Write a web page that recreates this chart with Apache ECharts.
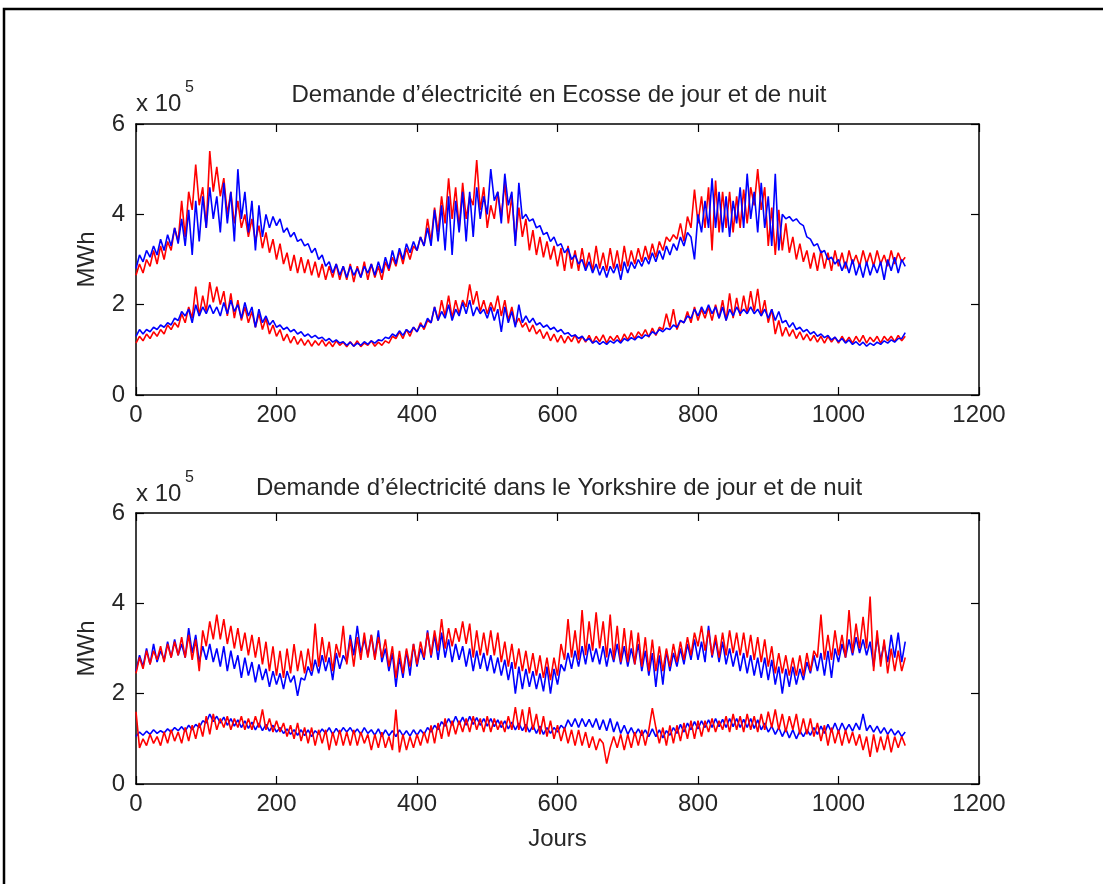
<!DOCTYPE html>
<html>
<head>
<meta charset="utf-8">
<script src="https://cdn.jsdelivr.net/npm/echarts@6/dist/echarts.min.js"></script>
<style>
html,body{margin:0;padding:0;background:#fff;}
#chart{width:1103px;height:884px;}
</style>
</head>
<body>
<div id="chart"></div>
<script>
// ---- DATA (values in units of 10^5 MWh, one value every 5 days, day 0 .. 1095) ----
const STEP_DAYS = 5;
const xTicks = [0, 200, 400, 600, 800, 1000, 1200];
const yTicks = [0, 2, 4, 6];
const titleScot = "Demande d’électricité en Ecosse de jour et de nuit";
const titleYork = "Demande d’électricité dans le Yorkshire de jour et de nuit";

const scotDayBlue = [
 2.8,3.1,2.95,3.2,3.05,3.3,3.1,3.45,3.2,3.55,3.3,3.7,3.35,3.9,3.3,4.1,3.1,4.3,3.4,4.4,
 3.7,4.6,3.9,4.4,3.6,4.7,3.8,4.5,3.4,5.0,3.9,4.5,3.6,4.3,3.2,4.2,3.5,4.0,3.7,3.95,
 3.75,3.9,3.6,3.7,3.5,3.6,3.4,3.45,3.3,3.35,3.15,3.25,3.0,3.1,2.85,2.95,2.7,2.9,2.65,2.85,
 2.6,2.85,2.65,2.8,2.6,2.85,2.7,2.9,2.65,2.95,2.7,3.05,2.8,3.2,2.9,3.25,3.0,3.35,3.15,3.4,
 3.2,3.5,3.3,3.7,3.3,4.1,3.4,4.2,3.2,4.4,3.1,4.3,3.6,4.5,3.4,4.5,3.5,4.6,3.9,4.4,
 4.0,5.0,4.3,4.5,3.8,4.9,4.2,4.5,3.3,4.7,3.9,4.0,3.85,3.9,3.7,3.75,3.55,3.6,3.4,3.5,
 3.3,3.35,3.15,3.25,3.0,3.1,2.9,3.0,2.75,2.95,2.7,2.9,2.65,2.85,2.6,2.85,2.7,2.9,2.55,2.95,
 2.7,2.95,2.8,3.0,2.85,3.05,2.9,3.15,2.95,3.2,3.0,3.3,3.1,3.35,3.2,3.5,3.3,3.6,3.5,3.0,
 4.0,3.6,4.3,3.7,4.8,3.7,4.5,3.6,4.4,3.5,4.3,3.8,4.6,3.7,4.9,3.9,4.5,3.6,4.7,3.7,
 4.4,3.3,4.9,3.2,4.0,3.9,3.95,3.85,3.9,3.8,3.75,3.5,3.45,3.3,3.35,3.15,3.2,3.0,3.05,2.9,
 3.0,2.75,2.95,2.7,3.0,2.65,2.9,2.6,2.95,2.65,2.9,2.7,2.95,2.55,3.0,2.75,3.05,2.7,3.0,2.85
];
const scotDayRed = [
 2.65,2.9,2.7,3.0,2.85,3.2,2.9,3.3,3.0,3.4,3.2,3.7,3.4,4.3,3.5,4.5,4.1,5.1,4.2,4.6,
 3.7,5.4,4.5,5.05,4.4,4.8,4.0,4.5,3.8,4.3,3.7,4.0,3.5,3.9,3.4,3.75,3.25,3.6,3.15,3.45,
 3.0,3.35,2.9,3.15,2.75,3.1,2.7,3.05,2.7,3.0,2.65,2.95,2.6,2.9,2.55,2.85,2.6,2.9,2.55,2.85,
 2.55,2.9,2.5,2.85,2.6,2.95,2.55,2.9,2.6,2.85,2.55,2.95,2.75,3.05,2.85,3.2,2.9,3.25,3.0,3.3,
 3.2,3.5,3.3,3.9,3.4,4.15,3.6,4.4,3.8,4.8,3.9,4.6,3.7,4.7,3.9,4.4,4.2,5.2,4.1,4.6,
 3.7,4.2,3.9,4.5,3.95,4.7,3.8,4.4,3.4,4.15,3.5,3.9,3.2,3.65,3.1,3.5,3.05,3.4,3.0,3.3,
 2.85,3.25,2.75,3.3,2.8,3.2,2.75,3.25,2.8,3.15,2.75,3.3,2.8,3.15,2.75,3.25,2.8,3.2,2.75,3.3,
 2.85,3.2,2.9,3.25,2.95,3.3,3.0,3.35,3.05,3.4,3.2,3.5,3.4,3.55,3.45,3.8,3.4,3.95,3.7,4.55,
 3.8,4.4,3.7,4.6,3.2,4.75,3.6,4.5,3.7,4.5,3.6,4.4,3.7,4.55,3.8,4.6,4.2,5.0,4.1,4.6,
 3.3,4.15,3.1,4.1,3.2,3.8,3.15,3.5,3.0,3.35,2.95,3.2,2.8,3.15,2.75,3.2,2.8,3.15,2.75,3.2,
 2.85,3.15,2.8,3.2,2.9,3.1,2.85,3.2,2.9,3.15,2.85,3.2,2.9,3.1,2.85,3.2,2.9,3.15,2.95,3.05
];
const scotNightBlue = [
 1.3,1.45,1.35,1.45,1.4,1.5,1.45,1.55,1.5,1.6,1.55,1.7,1.65,1.85,1.75,1.9,1.6,2.0,1.75,1.95,
 1.8,2.0,1.8,1.95,1.75,2.05,1.8,2.1,1.85,2.0,1.7,2.05,1.75,1.95,1.5,1.9,1.6,1.75,1.55,1.65,
 1.5,1.55,1.45,1.5,1.4,1.45,1.35,1.4,1.3,1.35,1.27,1.32,1.25,1.28,1.2,1.25,1.17,1.22,1.15,1.18,
 1.1,1.17,1.08,1.15,1.1,1.18,1.12,1.2,1.15,1.22,1.2,1.28,1.25,1.35,1.3,1.42,1.32,1.45,1.38,1.5,
 1.4,1.55,1.5,1.7,1.6,1.95,1.65,1.85,1.7,2.0,1.65,1.9,1.75,2.05,1.8,2.1,1.75,1.95,1.8,1.9,
 1.7,1.95,1.65,1.9,1.4,1.95,1.6,1.85,1.5,2.0,1.6,1.75,1.6,1.7,1.55,1.6,1.5,1.55,1.45,1.5,
 1.4,1.45,1.35,1.38,1.3,1.33,1.25,1.3,1.2,1.25,1.15,1.2,1.12,1.18,1.12,1.2,1.15,1.22,1.15,1.25,
 1.2,1.27,1.22,1.3,1.25,1.33,1.3,1.4,1.35,1.45,1.4,1.48,1.45,1.55,1.5,1.65,1.6,1.75,1.7,1.9,
 1.75,1.95,1.8,2.0,1.8,1.95,1.7,1.95,1.65,1.9,1.75,1.95,1.8,1.9,1.8,1.95,1.8,1.9,1.75,1.9,
 1.7,1.9,1.65,1.85,1.6,1.65,1.5,1.6,1.45,1.5,1.4,1.45,1.35,1.4,1.3,1.35,1.27,1.32,1.22,1.28,
 1.18,1.25,1.15,1.22,1.12,1.18,1.1,1.17,1.08,1.15,1.1,1.17,1.12,1.2,1.15,1.22,1.17,1.25,1.25,1.38
];
const scotNightRed = [
 1.15,1.3,1.2,1.35,1.25,1.4,1.3,1.45,1.35,1.55,1.45,1.6,1.5,1.8,1.6,1.95,1.7,2.4,1.75,2.2,
 1.85,2.5,2.05,2.4,2.0,2.3,1.75,2.25,1.7,2.1,1.65,1.95,1.6,1.85,1.5,1.8,1.45,1.7,1.35,1.55,
 1.3,1.45,1.2,1.35,1.15,1.3,1.12,1.25,1.1,1.22,1.08,1.2,1.1,1.22,1.08,1.18,1.07,1.2,1.1,1.17,
 1.07,1.18,1.08,1.2,1.07,1.15,1.1,1.2,1.08,1.17,1.1,1.2,1.15,1.3,1.25,1.4,1.25,1.45,1.3,1.5,
 1.4,1.6,1.45,1.65,1.6,1.95,1.65,2.1,1.75,2.2,1.7,2.1,1.8,2.1,1.95,2.45,2.0,2.3,1.85,2.1,
 1.8,2.05,1.85,2.2,1.75,2.1,1.65,1.95,1.55,1.7,1.5,1.6,1.4,1.55,1.35,1.45,1.25,1.4,1.2,1.35,
 1.17,1.32,1.15,1.3,1.18,1.33,1.15,1.3,1.17,1.32,1.15,1.3,1.18,1.33,1.15,1.3,1.2,1.32,1.17,1.35,
 1.22,1.38,1.25,1.4,1.3,1.45,1.28,1.48,1.32,1.5,1.45,1.8,1.5,1.9,1.45,1.65,1.6,1.85,1.6,1.95,
 1.65,1.9,1.7,1.95,1.65,2.0,1.7,2.1,1.65,2.25,1.7,2.15,1.75,2.2,1.8,2.3,1.85,2.35,1.75,2.1,
 1.6,1.9,1.35,1.65,1.3,1.5,1.3,1.45,1.25,1.4,1.22,1.35,1.2,1.32,1.17,1.3,1.15,1.3,1.17,1.28,
 1.15,1.3,1.17,1.28,1.15,1.3,1.17,1.32,1.15,1.28,1.18,1.3,1.15,1.3,1.2,1.3,1.18,1.32,1.2,1.3
];
const yorkDayBlue = [
 2.5,2.85,2.6,3.0,2.65,3.1,2.7,2.95,2.75,3.15,2.8,3.2,2.85,3.1,2.8,3.45,2.9,3.3,2.7,3.05,
 2.75,3.1,2.7,3.0,2.6,3.05,2.5,2.95,2.55,2.85,2.35,2.8,2.4,2.7,2.25,2.65,2.3,2.55,2.15,2.5,
 2.2,2.45,2.1,2.5,2.25,2.4,1.95,2.35,2.3,2.6,2.4,2.75,2.45,2.85,2.5,2.8,2.3,2.9,2.55,2.85,
 2.7,3.3,2.85,3.5,2.9,3.2,2.85,3.3,2.8,3.4,2.7,3.0,2.5,2.9,2.15,2.8,2.35,2.95,2.4,3.1,
 2.6,3.0,2.75,3.4,2.8,3.3,2.75,3.35,2.8,3.2,2.7,3.1,2.75,3.05,2.6,3.0,2.5,2.95,2.55,2.9,
 2.5,2.85,2.45,2.8,2.4,2.75,2.3,2.7,2.0,2.6,2.1,2.55,2.15,2.5,2.1,2.45,2.05,2.6,2.0,2.55,
 2.2,2.65,2.5,2.9,2.55,2.95,2.6,3.05,2.65,3.1,2.7,3.0,2.65,3.05,2.6,3.0,2.7,3.1,2.65,3.05,
 2.6,3.0,2.65,3.1,2.5,2.95,2.4,2.9,2.15,2.85,2.2,2.95,2.5,2.9,2.6,3.0,2.65,3.1,2.75,3.2,
 2.75,3.15,2.7,3.5,2.8,3.2,2.7,3.15,2.65,3.0,2.6,2.95,2.5,2.9,2.45,2.85,2.4,2.8,2.35,2.8,
 2.3,2.75,2.2,2.6,2.0,2.55,2.15,2.6,2.2,2.55,2.3,2.7,2.45,2.85,2.5,2.9,2.4,2.95,2.35,3.0,
 2.7,3.1,2.8,3.2,2.85,3.25,2.9,3.2,2.85,3.15,2.6,3.25,2.75,3.1,2.7,3.3,2.8,3.35,2.7,3.15
];
const yorkDayRed = [
 2.45,2.8,2.55,2.95,2.65,2.95,2.75,3.05,2.7,3.1,2.8,3.15,2.85,3.25,2.8,3.3,2.75,3.2,2.5,3.4,
 3.05,3.6,3.2,3.75,3.2,3.65,3.1,3.5,3.0,3.45,2.95,3.35,2.85,3.3,2.8,3.25,2.65,3.15,2.5,3.05,
 2.4,2.95,2.35,3.0,2.45,3.1,2.5,2.95,2.45,3.0,2.5,3.55,2.6,3.25,2.7,3.15,2.5,3.1,2.8,3.5,
 2.65,3.2,2.6,3.25,2.75,3.35,2.8,3.3,2.75,3.25,2.8,3.2,2.6,3.05,2.35,2.95,2.45,3.0,2.6,3.1,
 2.65,3.15,2.8,3.35,2.85,3.4,2.95,3.65,3.0,3.45,3.05,3.45,3.15,3.6,3.1,3.55,2.8,3.4,2.85,3.35,
 2.85,3.4,2.85,3.35,2.7,3.15,2.6,3.1,2.55,3.0,2.5,2.95,2.45,2.9,2.4,2.85,2.35,2.8,2.3,2.8,
 2.4,3.1,2.75,3.65,2.8,3.4,2.75,3.85,2.85,3.6,2.95,3.8,3.0,3.6,2.8,3.75,2.75,3.5,2.7,3.45,
 2.7,3.4,2.65,3.35,2.6,3.25,2.5,3.2,2.5,3.05,2.5,3.0,2.6,3.1,2.7,3.15,2.75,3.25,2.85,3.35,
 3.05,3.5,2.95,3.4,2.85,3.3,2.8,3.35,2.85,3.4,2.9,3.35,2.85,3.35,2.8,3.3,2.75,3.25,2.7,3.2,
 2.6,3.05,2.45,2.9,2.45,2.85,2.4,2.8,2.4,2.85,2.4,2.9,2.5,2.95,2.8,3.75,2.75,3.3,2.75,3.4,
 2.85,3.3,2.8,3.85,2.9,3.55,3.0,3.7,3.0,4.15,2.5,3.4,2.6,3.2,2.45,3.0,2.5,2.95,2.5,2.8
];
const yorkNightBlue = [
 1.05,1.15,1.08,1.17,1.1,1.2,1.12,1.18,1.13,1.22,1.15,1.25,1.18,1.27,1.17,1.3,1.2,1.32,1.25,1.4,
 1.35,1.55,1.38,1.5,1.35,1.48,1.3,1.45,1.28,1.42,1.25,1.4,1.23,1.37,1.2,1.35,1.18,1.32,1.17,1.3,
 1.15,1.25,1.12,1.22,1.1,1.2,1.08,1.2,1.07,1.2,1.05,1.18,1.1,1.22,1.12,1.25,1.1,1.23,1.12,1.25,
 1.15,1.25,1.12,1.22,1.1,1.25,1.12,1.2,1.08,1.22,1.05,1.2,1.07,1.18,1.05,1.2,1.07,1.18,1.06,1.2,
 1.08,1.2,1.1,1.25,1.15,1.3,1.2,1.38,1.28,1.45,1.3,1.5,1.32,1.48,1.3,1.5,1.32,1.47,1.3,1.45,
 1.28,1.45,1.27,1.42,1.25,1.4,1.22,1.37,1.2,1.35,1.18,1.32,1.15,1.3,1.12,1.28,1.1,1.25,1.12,1.25,
 1.15,1.3,1.22,1.42,1.27,1.45,1.25,1.45,1.27,1.43,1.25,1.45,1.2,1.42,1.18,1.45,1.15,1.38,1.12,1.3,
 1.1,1.25,1.08,1.22,1.07,1.2,1.05,1.22,1.05,1.2,1.02,1.18,1.08,1.25,1.12,1.32,1.15,1.35,1.2,1.38,
 1.22,1.4,1.25,1.42,1.25,1.45,1.27,1.43,1.25,1.45,1.27,1.45,1.25,1.43,1.25,1.45,1.23,1.42,1.2,1.35,
 1.15,1.28,1.1,1.25,1.05,1.22,1.02,1.2,1.0,1.18,1.05,1.2,1.08,1.25,1.1,1.28,1.12,1.32,1.15,1.35,
 1.15,1.35,1.18,1.32,1.17,1.35,1.2,1.55,1.18,1.3,1.15,1.28,1.12,1.25,1.1,1.22,1.08,1.18,1.05,1.15
];
const yorkNightRed = [
 1.6,0.8,1.0,0.85,1.1,0.9,1.05,0.85,1.15,0.9,1.2,0.95,1.15,0.9,1.25,0.95,1.3,1.0,1.35,1.05,
 1.5,1.1,1.55,1.2,1.45,1.25,1.5,1.2,1.45,1.25,1.5,1.2,1.45,1.2,1.5,1.25,1.65,1.2,1.45,1.15,
 1.4,1.15,1.35,1.05,1.3,1.0,1.35,0.95,1.25,0.9,1.25,0.85,1.2,0.9,1.2,0.75,1.15,0.85,1.2,0.85,
 1.15,0.85,1.2,0.85,1.15,0.9,1.1,0.75,1.1,0.8,1.15,0.8,1.05,0.75,1.65,0.7,1.1,0.75,1.05,0.8,
 1.1,0.85,1.15,0.9,1.3,0.9,1.35,1.0,1.45,1.05,1.4,1.1,1.4,1.15,1.45,1.15,1.5,1.2,1.45,1.15,
 1.5,1.15,1.45,1.2,1.4,1.15,1.5,1.2,1.7,1.2,1.65,1.15,1.7,1.2,1.55,1.1,1.5,1.05,1.4,1.0,
 1.3,0.95,1.25,0.9,1.2,0.85,1.2,0.85,1.15,0.8,1.05,0.75,1.0,0.9,0.45,0.8,1.05,0.8,1.1,0.75,
 1.1,0.8,1.15,0.85,1.2,0.85,1.2,1.68,1.25,0.9,1.25,0.85,1.3,0.9,1.3,0.95,1.35,1.0,1.4,1.0,
 1.4,1.05,1.4,1.15,1.45,1.15,1.4,1.2,1.5,1.15,1.55,1.2,1.5,1.15,1.55,1.2,1.5,1.15,1.55,1.2,
 1.6,1.25,1.65,1.2,1.55,1.15,1.5,1.2,1.55,1.1,1.45,1.1,1.45,1.05,1.35,0.95,1.3,0.85,1.25,0.9,
 1.2,0.85,1.2,0.9,1.15,0.85,1.1,0.75,1.05,0.6,1.1,0.7,1.05,0.75,1.1,0.7,1.05,0.8,1.05,0.85
];

// ---- CHART ----
const FONT = "'Liberation Sans', Arial, sans-serif";
const FS = 24;
const TXT = '#262626';
const pairs = arr => arr.map((v, i) => [i * STEP_DAYS, v]);

function xAx(grid, pos, labels, name) {
  return {
    gridIndex: grid, type: 'value', position: pos,
    min: xTicks[0], max: xTicks[xTicks.length - 1], interval: xTicks[1] - xTicks[0],
    axisLine: { show: true, onZero: false, lineStyle: { color: '#000', width: 1.5 } },
    axisTick: { show: true, inside: true, length: 8, lineStyle: { color: '#000', width: 1.2 } },
    axisLabel: { show: labels, fontSize: FS, color: TXT, fontFamily: FONT, margin: 8,
                 formatter: v => String(v) },
    splitLine: { show: false },
    name: name || '', nameLocation: 'middle', nameGap: 43,
    nameTextStyle: { fontSize: FS, color: TXT, fontFamily: FONT }
  };
}
function yAx(grid, pos, labels, name) {
  return {
    gridIndex: grid, type: 'value', position: pos,
    min: yTicks[0], max: yTicks[yTicks.length - 1], interval: yTicks[1] - yTicks[0],
    axisLine: { show: true, onZero: false, lineStyle: { color: '#000', width: 1.5 } },
    axisTick: { show: true, inside: true, length: 8, lineStyle: { color: '#000', width: 1.2 } },
    axisLabel: { show: labels, fontSize: FS, color: TXT, fontFamily: FONT, margin: 11,
                 formatter: v => String(v) },
    splitLine: { show: false },
    name: name || '', nameLocation: 'middle', nameGap: 37, nameRotate: 90,
    nameTextStyle: { fontSize: FS, color: TXT, fontFamily: FONT }
  };
}
function ser(data, color, xi, yi) {
  return {
    type: 'line', data: pairs(data), xAxisIndex: xi, yAxisIndex: yi,
    showSymbol: false, symbol: 'none', smooth: false,
    lineStyle: { color: color, width: 1.6 }, itemStyle: { color: color },
    animation: false, silent: true
  };
}
function txt(text, x, y, size, align) {
  return { text: text, left: x, top: y, padding: 0, textAlign: align || 'left',
    textStyle: { fontSize: size, fontWeight: 'normal', color: TXT, fontFamily: FONT } };
}

const chart = echarts.init(document.getElementById('chart'), null, { renderer: 'canvas' });
chart.setOption({
  backgroundColor: '#fff',
  animation: false,
  title: [
    txt(titleScot, 559, 83, FS, 'center'),
    txt(titleYork, 559, 476, FS, 'center'),
    txt('x 10', 136, 92, FS),
    txt('5', 185, 80, 16),
    txt('x 10', 136, 482, FS),
    txt('5', 185, 470, 16)
  ],
  graphic: [{
    type: 'rect', silent: true,
    shape: { x: 4, y: 9, width: 1200, height: 1000 },
    style: { fill: 'none', stroke: '#000', lineWidth: 2.5 }
  }],
  grid: [
    { left: 136, right: 124, top: 124, height: 271 },
    { left: 136, right: 124, top: 513, height: 271 }
  ],
  xAxis: [
    xAx(0, 'bottom', true), xAx(0, 'top', false),
    xAx(1, 'bottom', true, 'Jours'), xAx(1, 'top', false)
  ],
  yAxis: [
    yAx(0, 'left', true, 'MWh'), yAx(0, 'right', false),
    yAx(1, 'left', true, 'MWh'), yAx(1, 'right', false)
  ],
  series: [
    ser(scotDayRed, '#ff0000', 0, 0),
    ser(scotNightRed, '#ff0000', 0, 0),
    ser(scotDayBlue, '#0000ff', 0, 0),
    ser(scotNightBlue, '#0000ff', 0, 0),
    ser(yorkDayBlue, '#0000ff', 2, 2),
    ser(yorkNightBlue, '#0000ff', 2, 2),
    ser(yorkDayRed, '#ff0000', 2, 2),
    ser(yorkNightRed, '#ff0000', 2, 2)
  ]
});
</script>
</body>
</html>
